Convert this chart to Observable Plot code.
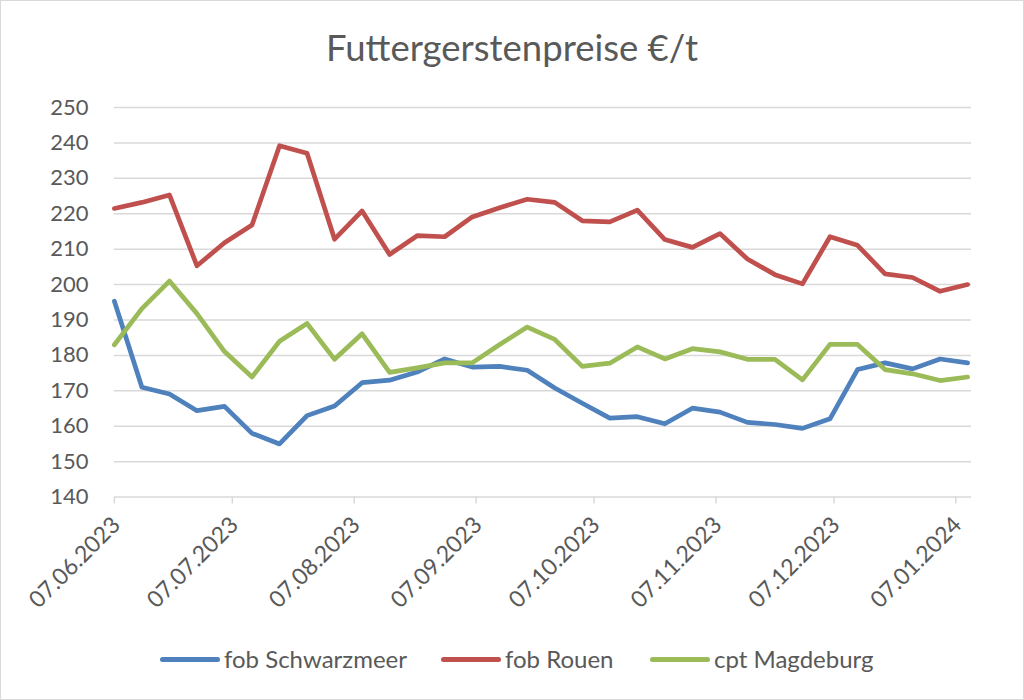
<!DOCTYPE html>
<html><head><meta charset="utf-8">
<script src="https://cdn.jsdelivr.net/npm/d3@7"></script>
<script src="https://cdn.jsdelivr.net/npm/@observablehq/plot@0.6"></script>
<style>
body{margin:0;background:#fff;}
#chart{position:relative;width:1024px;height:700px;box-sizing:border-box;border:1px solid #d9d9d9;font-family:Lato, sans-serif;color:#595959;overflow:hidden;background:#fff}
#title{position:absolute;left:0;width:100%;text-align:center;font-size:36.5px;line-height:36px;top:28px;white-space:nowrap}
#plot{position:absolute;left:-1px;top:82px}
#legend{position:absolute;left:-1px;top:623px;width:1024px;height:76px}
.item{position:absolute;top:22px;display:flex;align-items:center;font-size:24px;line-height:26px;white-space:nowrap}
.sw{width:60px;height:5px;border-radius:3px;margin-right:4px}
</style></head>
<body>
<div id="chart">
  <div id="title">Futtergerstenpreise €/t</div>
  <div id="plot"></div>
  <div id="legend"></div>
</div>
<script>
const dates = ["2023-06-07","2023-06-14","2023-06-21","2023-06-28","2023-07-05","2023-07-12","2023-07-19","2023-07-26",
  "2023-08-02","2023-08-09","2023-08-16","2023-08-23","2023-08-30","2023-09-06","2023-09-13","2023-09-20","2023-09-27",
  "2023-10-04","2023-10-11","2023-10-18","2023-10-25","2023-11-01","2023-11-08","2023-11-15","2023-11-22","2023-11-29",
  "2023-12-06","2023-12-13","2023-12-20","2023-12-27","2024-01-03","2024-01-10"];
const schwarzmeer = [195.3,171,169.1,164.4,165.6,158,155,163,165.7,172.3,173,175.3,179,176.7,176.9,175.8,170.8,166.5,162.3,162.7,160.7,165.1,164,161.1,160.5,159.4,162.1,176,177.9,176.2,179,177.9];
const rouen = [221.5,223.2,225.3,205.3,211.8,216.8,239.2,237.1,212.8,220.8,208.5,213.8,213.5,219.1,221.7,224.1,223.2,218,217.7,221,212.7,210.5,214.4,207.2,202.8,200.2,213.5,211.1,203,202,198.1,200];
const magdeburg = [183,193.2,201,191.8,181.1,173.9,184,189,178.9,186.1,175.2,176.5,177.9,177.9,183.1,188,184.5,176.9,177.8,182.4,179,181.9,181,178.9,178.9,173.1,183.1,183.1,176,174.8,172.9,173.9];
const seriesNames = ["fob Schwarzmeer","fob Rouen","cpt Magdeburg"];
const seriesColors = ["#4F81BD","#C0504D","#9BBB59"];
const xTicks = ["2023-06-07","2023-07-07","2023-08-07","2023-09-07","2023-10-07","2023-11-07","2023-12-07","2024-01-07"];
const yTicks = [140,150,160,170,180,190,200,210,220,230,240,250];
const xDomain = ["2023-06-07","2024-01-11"];

const seriesValues = [schwarzmeer, rouen, magdeburg];
const data = seriesNames.flatMap((name, s) => dates.map((d, i) => ({date: new Date(d), value: seriesValues[s][i], name})));

const chart = Plot.plot({
  width: 1024, height: 540,
  marginTop: 24, marginBottom: 126, marginLeft: 114, marginRight: 52,
  style: {fontFamily: "Lato, sans-serif", fontSize: "22px", color: "#595959", background: "transparent"},
  x: {type: "utc", domain: xDomain.map(d => new Date(d)), label: null},
  y: {domain: [140, 250], label: null},
  color: {domain: seriesNames, range: seriesColors},
  marks: [
    Plot.gridY(yTicks, {stroke: "#d9d9d9", strokeOpacity: 1, strokeWidth: 1.5}),
    Plot.axisY(yTicks, {tickSize: 0, tickPadding: 26, fill: "#595959", label: null}),
    Plot.axisX(xTicks.map(d => new Date(d)), {tickSize: 7, tickPadding: 0, stroke: "#d9d9d9", strokeWidth: 1.5, tickFormat: () => "", label: null}),
    Plot.axisX(xTicks.map(d => new Date(d)), {tickSize: 0, tickPadding: 24, dx: 2, tickRotate: -45, fill: "#595959", fontSize: 23, tickFormat: d3.utcFormat("%d.%m.%Y"), label: null}),
    Plot.lineY(data, {x: "date", y: "value", stroke: "name", strokeWidth: 4.7, strokeLinejoin: "round", strokeLinecap: "round"})
  ]
});
document.getElementById("plot").appendChild(chart);

const legendLefts = [160, 441, 650];
const legend = document.getElementById("legend");
seriesNames.forEach((name, i) => {
  const item = document.createElement("div");
  item.className = "item";
  item.style.left = legendLefts[i] + "px";
  const sw = document.createElement("div");
  sw.className = "sw";
  sw.style.background = seriesColors[i];
  const label = document.createElement("span");
  label.textContent = name;
  item.appendChild(sw); item.appendChild(label);
  legend.appendChild(item);
});
</script>
</body></html>
